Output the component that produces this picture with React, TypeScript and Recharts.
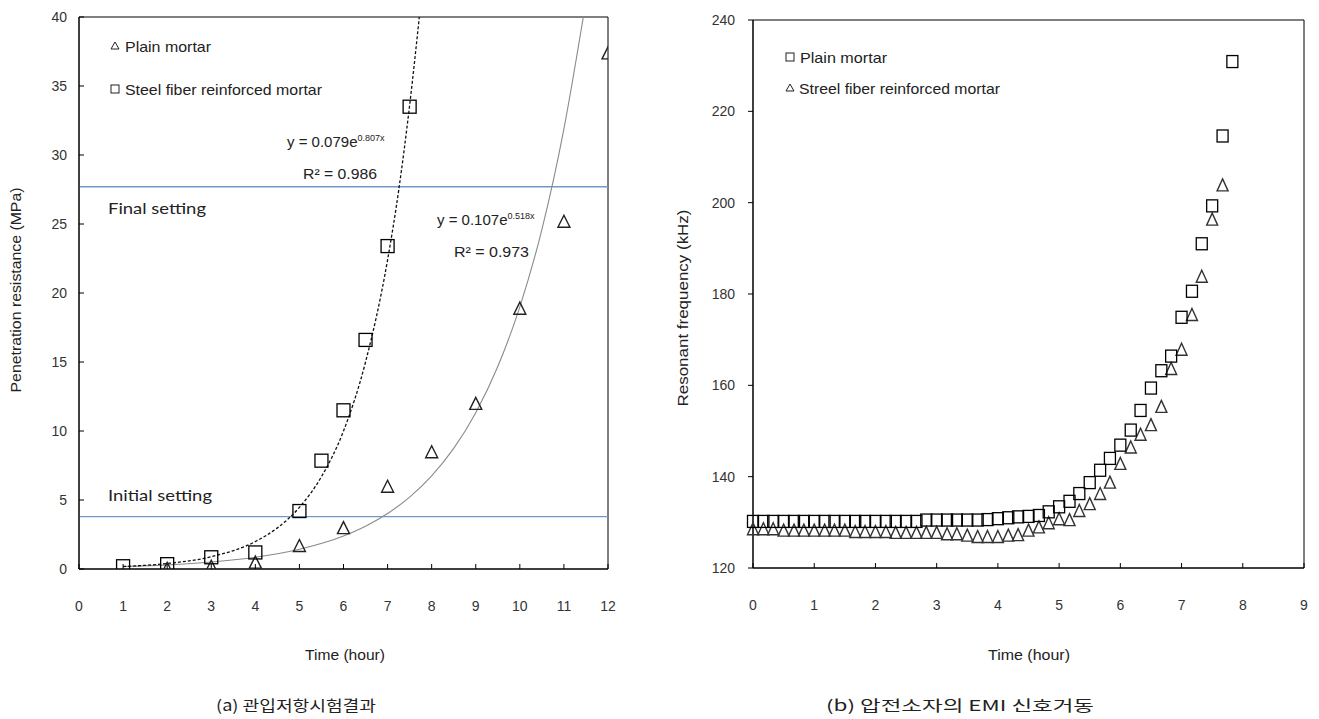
import React from 'react';
import {
  ComposedChart, Scatter, Line, XAxis, YAxis, ReferenceLine, ReferenceArea,
} from 'recharts';

// (a) penetration resistance test
const STEEL_TIME = [1, 2, 3, 4, 5, 5.5, 6, 6.5, 7, 7.5];
const STEEL_RES = [0.2, 0.35, 0.85, 1.2, 4.2, 7.85, 11.5, 16.6, 23.4, 33.5];
const PLAIN_TIME = [2, 3, 4, 5, 6, 7, 8, 9, 10, 11, 12];
const PLAIN_RES = [0.05, 0.2, 0.5, 1.7, 3.0, 6.0, 8.5, 12.0, 18.9, 25.2, 37.4];

// exponential trendlines
const STEEL_FIT_TIME = [1, 2, 3, 4, 4.5, 5, 5.5, 6, 6.5, 7, 7.25, 7.5, 7.72];
const STEEL_FIT_RES = [0.18, 0.4, 0.89, 1.99, 2.98, 4.47, 6.69, 10.0, 15.0, 22.4, 27.4, 33.6, 40];
const PLAIN_FIT_TIME = [1, 2, 3, 4, 5, 6, 6.5, 7, 7.5, 8, 8.5, 9, 9.5, 10, 10.5, 11, 11.44];
const PLAIN_FIT_RES = [0.18, 0.3, 0.51, 0.85, 1.43, 2.39, 3.1, 4.02, 5.21, 6.75, 8.74, 11.33, 14.67, 19.0, 24.6, 31.9, 40];

const INITIAL_SETTING = 3.8;
const FINAL_SETTING = 27.7;

const A_X_TICKS = [0, 1, 2, 3, 4, 5, 6, 7, 8, 9, 10, 11, 12];
const A_Y_TICKS = [0, 5, 10, 15, 20, 25, 30, 35, 40];

// (b) EMI resonant frequency, every 10 min
const EMI_TIME = [0, 0.17, 0.33, 0.5, 0.67, 0.83, 1, 1.17, 1.33, 1.5, 1.67, 1.83, 2, 2.17, 2.33, 2.5,
  2.67, 2.83, 3, 3.17, 3.33, 3.5, 3.67, 3.83, 4, 4.17, 4.33, 4.5, 4.67, 4.83, 5, 5.17, 5.33, 5.5,
  5.67, 5.83, 6, 6.17, 6.33, 6.5, 6.67, 6.83, 7, 7.17, 7.33, 7.5, 7.67, 7.83];
const PLAIN_FREQ = [130.2, 130.2, 130.2, 130.2, 130.2, 130.2, 130.2, 130.2, 130.2, 130.2, 130.2, 130.2,
  130.2, 130.2, 130.2, 130.2, 130.2, 130.5, 130.5, 130.5, 130.5, 130.5, 130.5, 130.6, 130.8, 131.0,
  131.2, 131.3, 131.5, 132.3, 133.4, 134.6, 136.3, 138.7, 141.4, 144.0, 146.9, 150.2, 154.5, 159.4,
  163.2, 166.4, 174.9, 180.6, 191.0, 199.3, 214.6, 230.9];
const STEEL_FREQ = [128.6, 128.6, 128.6, 128.3, 128.3, 128.3, 128.3, 128.3, 128.3, 128.3, 128.0, 128.0,
  128.0, 128.0, 127.8, 127.8, 127.8, 127.8, 127.8, 127.5, 127.5, 127.2, 126.9, 126.9, 126.9, 127.2,
  127.3, 128.3, 129.0, 129.9, 130.8, 130.6, 132.6, 134.1, 136.3, 138.8, 142.9, 146.5, 149.3, 151.4,
  155.4, 163.7, 167.9, 175.5, 183.9, 196.4, 203.9];

const B_X_TICKS = [0, 1, 2, 3, 4, 5, 6, 7, 8, 9];
const B_Y_TICKS = [120, 140, 160, 180, 200, 220, 240];

const FONT = "'Liberation Sans', Arial, sans-serif";
const INK = '#000';
const SETTING_BLUE = '#7098c8';

const zip = (xs: number[], ys: number[]) => ys.map((y, i) => ({ x: xs[i], y }));

const steelPts = zip(STEEL_TIME, STEEL_RES);
const plainPts = zip(PLAIN_TIME, PLAIN_RES);
const steelFit = zip(STEEL_FIT_TIME, STEEL_FIT_RES);
const plainFit = zip(PLAIN_FIT_TIME, PLAIN_FIT_RES);
const emiPlain = zip(EMI_TIME, PLAIN_FREQ);
const emiSteel = zip(EMI_TIME, STEEL_FREQ);

const square = (w: number, h: number) => (p: any) => (
  <rect x={p.cx - w / 2} y={p.cy - h / 2} width={w} height={h} fill="none" stroke={INK} strokeWidth={1.3} />
);
const triangle = (w: number, h: number, color = '#222') => (p: any) => (
  <path
    d={`M${p.cx},${p.cy - h / 2} L${p.cx + w / 2},${p.cy + h / 2} L${p.cx - w / 2},${p.cy + h / 2} Z`}
    fill="none" stroke={color} strokeWidth={1.4}
  />
);

const xTick = (p: any) => (
  <g>
    <line x1={p.x} x2={p.x} y1={p.y} y2={p.y - 5} stroke={INK} />
    <text x={p.x} y={p.y + 42} textAnchor="middle" fontSize={14} fontFamily={FONT} fill="#333">
      {p.payload.value}
    </text>
  </g>
);
const yTickIn = (p: any) => (
  <g>
    <line x1={p.x} x2={p.x + 5} y1={p.y} y2={p.y} stroke={INK} />
    <text x={p.x - 12} y={p.y + 5} textAnchor="end" fontSize={14} fontFamily={FONT} fill="#333">
      {p.payload.value}
    </text>
  </g>
);
const yTickOut = (p: any) => (
  <g>
    <line x1={p.x - 5} x2={p.x} y1={p.y} y2={p.y} stroke={INK} />
    <text x={p.x - 18} y={p.y + 5} textAnchor="end" fontSize={14} fontFamily={FONT} fill="#333">
      {p.payload.value}
    </text>
  </g>
);

function PenetrationChart() {
  return (
    <ComposedChart width={620} height={640} margin={{ top: 17, right: 12, bottom: 41, left: 0 }}>
      <XAxis dataKey="x" type="number" domain={[0, 12]} ticks={A_X_TICKS} height={30}
        tickSize={0} tickMargin={0} tickLine={false} axisLine={{ stroke: INK }} tick={xTick} allowDataOverflow />
      <YAxis type="number" domain={[0, 40]} ticks={A_Y_TICKS} width={79}
        tickSize={0} tickMargin={0} tickLine={false} axisLine={{ stroke: INK }} tick={yTickIn} allowDataOverflow />
      <ReferenceArea x1={0} x2={12} y1={0} y2={40} fill="none" stroke={INK} strokeWidth={1} />
      <ReferenceLine y={FINAL_SETTING} stroke={SETTING_BLUE} strokeWidth={1.3} />
      <ReferenceLine y={INITIAL_SETTING} stroke={SETTING_BLUE} strokeWidth={1.3} />
      <Line data={plainFit} dataKey="y" type="monotone" stroke="#8a8a8a" strokeWidth={1.1}
        dot={false} activeDot={false} isAnimationActive={false} />
      <Line data={steelFit} dataKey="y" type="monotone" stroke="#111" strokeWidth={1.3}
        strokeDasharray="3 2" dot={false} activeDot={false} isAnimationActive={false} />
      <Scatter data={plainPts} dataKey="y" shape={triangle(12, 12)} isAnimationActive={false} />
      <Scatter data={steelPts} dataKey="y" shape={square(13, 13)} isAnimationActive={false} />
    </ComposedChart>
  );
}

function EmiChart() {
  return (
    <ComposedChart width={659} height={640} margin={{ top: 20, right: 15, bottom: 42, left: 0 }}>
      <XAxis dataKey="x" type="number" domain={[0, 9]} ticks={B_X_TICKS} height={30}
        tickSize={0} tickMargin={0} tickLine={false} axisLine={{ stroke: INK }} tick={xTick} />
      <YAxis type="number" domain={[120, 240]} ticks={B_Y_TICKS} width={93}
        tickSize={0} tickMargin={0} tickLine={false} axisLine={{ stroke: INK }} tick={yTickOut} />
      <ReferenceArea x1={0} x2={9} y1={120} y2={240} fill="none" stroke={INK} strokeWidth={1} />
      <Scatter data={emiSteel} dataKey="y" shape={triangle(11, 12, '#333')} isAnimationActive={false} />
      <Scatter data={emiPlain} dataKey="y" shape={square(11, 12)} isAnimationActive={false} />
    </ComposedChart>
  );
}

const T = ({ x, y, w, size = 15, family = FONT, anchor = 'start', children, rotate }: any) => (
  <text x={x} y={y} fontSize={size} fontFamily={family} fill="#222" textAnchor={anchor}
    textLength={w} lengthAdjust="spacingAndGlyphs"
    transform={rotate ? `rotate(${rotate} ${x} ${y})` : undefined}>
    {children}
  </text>
);

const Tri = ({ x, y }: any) => (
  <path d={`M${x},${y - 4} L${x + 4},${y + 3} L${x - 4},${y + 3} Z`} fill="none" stroke="#222" strokeWidth={1} />
);
const Sq = ({ x, y }: any) => (
  <rect x={x - 4} y={y - 4} width={8} height={8} fill="none" stroke="#222" strokeWidth={1} />
);

function Annotations() {
  const calibri = "Lato, 'Open Sans', sans-serif";
  return (
    <svg width={1319} height={719} style={{ position: 'absolute', left: 0, top: 0, pointerEvents: 'none' }}>
      {/* (a) legend */}
      <Tri x={115} y={46} />
      <T x={125} y={52} w={86}>Plain mortar</T>
      <Sq x={115} y={89} />
      <T x={125} y={95} w={197}>Steel fiber reinforced mortar</T>

      {/* (a) trendline labels */}
      <text x={287} y={147} fontSize={15} fontFamily={FONT} fill="#222">
        y = 0.079e<tspan fontSize={9} dy={-6}>0.807x</tspan>
      </text>
      <T x={303} y={179} w={74}>R² = 0.986</T>
      <text x={437} y={225} fontSize={15} fontFamily={FONT} fill="#222">
        y = 0.107e<tspan fontSize={9} dy={-6}>0.518x</tspan>
      </text>
      <T x={454} y={257} w={75}>R² = 0.973</T>

      <T x={108} y={214} w={98} size={16} family={calibri}>Final setting</T>
      <T x={108} y={501} w={104} size={16} family={calibri}>Initial setting</T>

      {/* (b) legend */}
      <Sq x={790} y={57} />
      <T x={800} y={63} w={87}>Plain mortar</T>
      <Tri x={790} y={88} />
      <T x={799} y={94} w={201}>Streel fiber reinforced mortar</T>

      {/* axis titles */}
      <T x={21} y={290} w={205} size={14} anchor="middle" rotate={-90}>Penetration resistance (MPa)</T>
      <T x={688} y={308} w={197} size={14} anchor="middle" rotate={-90}>Resonant frequency (kHz)</T>
      <T x={345} y={660} w={80} size={14} anchor="middle">Time (hour)</T>
      <T x={1029} y={660} w={82} size={14} anchor="middle">Time (hour)</T>

      {/* captions */}
      <T x={296} y={711} w={160} size={15} anchor="middle" family="'Noto Sans CJK KR', sans-serif">(a) 관입저항시험결과</T>
      <T x={960} y={711} w={268} size={15} anchor="middle" family="'Noto Sans CJK KR', sans-serif">(b) 압전소자의 EMI 신호거동</T>
    </svg>
  );
}

export default function App() {
  return (
    <div style={{ position: 'absolute', left: 0, top: 0, width: 1319, height: 719, background: '#fff' }}>
      <div style={{ position: 'absolute', left: 0, top: 0 }}>
        <PenetrationChart />
      </div>
      <div style={{ position: 'absolute', left: 660, top: 0 }}>
        <EmiChart />
      </div>
      <Annotations />
    </div>
  );
}
